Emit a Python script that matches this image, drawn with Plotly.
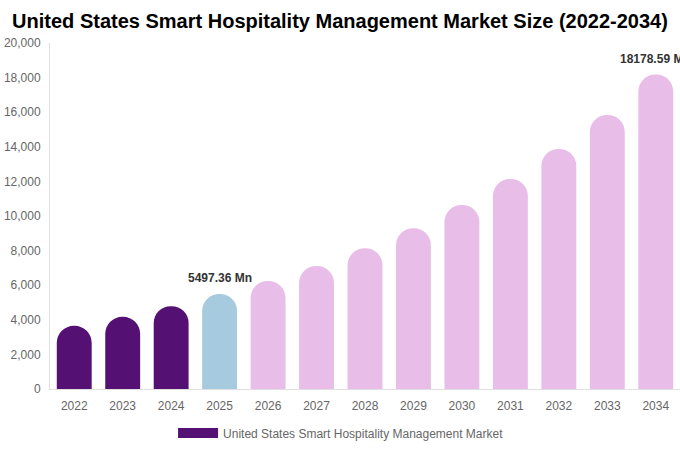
import plotly.graph_objects as go

# Market size, USD Mn
years = ['2022', '2023', '2024', '2025', '2026', '2027', '2028',
         '2029', '2030', '2031', '2032', '2033', '2034']
market_size = [3650, 4170, 4790, 5497.36, 6240, 7110, 8140,
               9290, 10640, 12140, 13870, 15840, 18178.59]
bar_colors = ['#541173'] * 3 + ['#a6cbdf'] + ['#e8bde8'] * 9

# only these two get a value label
labelled = {'2025': '5497.36 Mn', '2034': '18178.59 Mn'}

series_name = 'United States Smart Hospitality Management Market'

fig = go.Figure()

fig.add_trace(go.Bar(
    x=years,
    y=market_size,
    marker=dict(color=bar_colors, line=dict(width=0)),
    width=0.72,
    showlegend=False,
    hoverinfo='x+y',
    cliponaxis=False,
))

# dummy trace so the legend shows a wide purple swatch
fig.add_trace(go.Scatter(
    x=[None], y=[None],
    mode='lines',
    line=dict(color='#541173', width=12),
    name=series_name,
))

# category axis -> annotations need the category index
for yr, txt in labelled.items():
    i = years.index(yr)
    fig.add_annotation(
        x=i, y=market_size[i],
        text=f'<b>{txt}</b>',
        showarrow=False,
        yshift=16,
        font=dict(size=12, color='#333333', family='Liberation Sans, Arial'),
    )

fig.update_layout(
    width=680, height=450,
    title=dict(
        text='<b>United States Smart Hospitality Management Market Size (2022-2034)</b>',
        x=0.5, xanchor='center', y=0.953, yanchor='middle',
        font=dict(size=20, color='#000000', family='Liberation Sans, Arial'),
    ),
    font=dict(family='Liberation Sans, Arial', color='#666666', size=12),
    paper_bgcolor='white',
    plot_bgcolor='white',
    barcornerradius='50%',
    margin=dict(l=50, r=0, t=43, b=61, autoexpand=False),
    legend=dict(
        orientation='h', x=0.462, xanchor='center', y=-0.085, yanchor='top',
        itemwidth=40,
        font=dict(size=12, color='#666666'),
    ),
    xaxis=dict(
        type='category', range=[-0.5, len(years) - 0.5],
        showline=True, linecolor='#e0e0e0', linewidth=1,
        showgrid=False, ticks='', ticklabelstandoff=6,
        tickfont=dict(size=12, color='#666666'),
    ),
    yaxis=dict(
        range=[0, 20000], dtick=2000, tickformat=',',
        showline=True, linecolor='#e0e0e0', linewidth=1,
        showgrid=False, zeroline=False, ticks='', ticklabelstandoff=6,
        tickfont=dict(size=12, color='#666666'),
    ),
)

fig.write_html('out.html', config={'displayModeBar': False},
               post_script="document.body.style.margin='0';")
